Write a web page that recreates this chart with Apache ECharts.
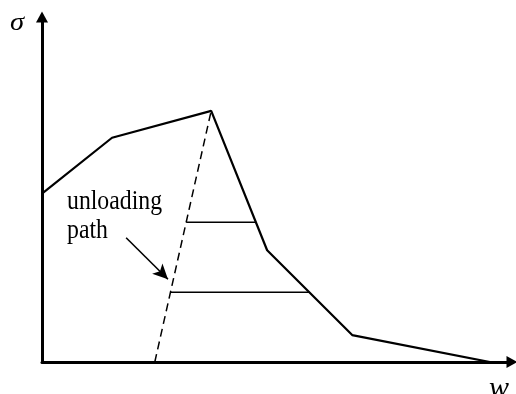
<!DOCTYPE html>
<html>
<head>
<meta charset="utf-8">
<script src="https://cdn.jsdelivr.net/npm/echarts@6/dist/echarts.min.js"></script>
<style>
  html, body { margin: 0; padding: 0; background: #fff; }
  #chart { width: 516px; height: 394px; }
</style>
</head>
<body>
<div id="chart"></div>
<script>
// Stress (sigma) against crack opening (w): softening envelope
const envelopeW     = [0, 1.49, 3.60, 4.79, 6.60, 9.53];
const envelopeSigma = [4.88, 6.50, 7.28, 3.24, 0.78, 0];

// Unloading path from the peak back to the w axis
const unloadW     = [2.40, 3.60];
const unloadSigma = [0, 7.28];

// Horizontal chords between the unloading path and the envelope
const chordLevels = [4.05, 2.02];
const chordStartW = [3.07, 2.73];
const chordEndW   = [4.55, 5.69];

// Leader arrow for the "unloading path" note
const pointerFrom = [1.79, 3.60];
const pointerTo   = [2.68, 2.40];

const serif = '"Liberation Serif", "Times New Roman", serif';
const black = '#000';

const zip = (xs, ys) => xs.map((x, i) => [x, ys[i]]);

const series = [
  {
    type: 'line',
    data: zip(envelopeW, envelopeSigma),
    symbol: 'none',
    lineStyle: { color: black, width: 2.2 },
    z: 3
  },
  {
    type: 'line',
    data: zip(unloadW, unloadSigma),
    symbol: 'none',
    lineStyle: { color: black, width: 1.5, type: [8, 5] },
    z: 2
  }
];

chordLevels.forEach((s, i) => {
  series.push({
    type: 'line',
    data: [[chordStartW[i], s], [chordEndW[i], s]],
    symbol: 'none',
    lineStyle: { color: black, width: 1.5 },
    z: 2
  });
});

series.push({
  type: 'line',
  data: [],
  markLine: {
    silent: true,
    symbol: ['none', 'arrow'],
    symbolSize: [11, 15],
    label: { show: false },
    lineStyle: { color: black, width: 1.6, type: 'solid' },
    data: [[{ coord: pointerFrom }, { coord: pointerTo }]]
  }
});

const axisCommon = {
  type: 'value',
  min: 0,
  max: 10,
  axisLine: {
    show: true,
    symbol: ['none', 'triangle'],
    symbolSize: [12, 11],
    lineStyle: { color: black, width: 3 }
  },
  axisTick: { show: false },
  axisLabel: { show: false },
  splitLine: { show: false }
};

const chart = echarts.init(document.getElementById('chart'));
chart.setOption({
  animation: false,
  backgroundColor: '#fff',
  grid: { left: 42, right: 4, top: 17, bottom: 32 },
  xAxis: Object.assign({}, axisCommon),
  yAxis: Object.assign({}, axisCommon),
  series: series,
  graphic: [
    {
      type: 'text',
      x: 10,
      y: 10,
      scaleX: 1.1,
      style: { text: 'σ', font: 'italic 26px ' + serif, lineHeight: 26, fill: black }
    },
    {
      type: 'text',
      x: 489,
      y: 374,
      style: { text: 'w', font: 'italic 30px ' + serif, lineHeight: 30, fill: black }
    },
    {
      type: 'text',
      x: 67,
      y: 187,
      scaleX: 0.88,
      style: {
        text: 'unloading\npath',
        font: '27px ' + serif,
        lineHeight: 29,
        fill: black
      }
    }
  ]
});
</script>
</body>
</html>
